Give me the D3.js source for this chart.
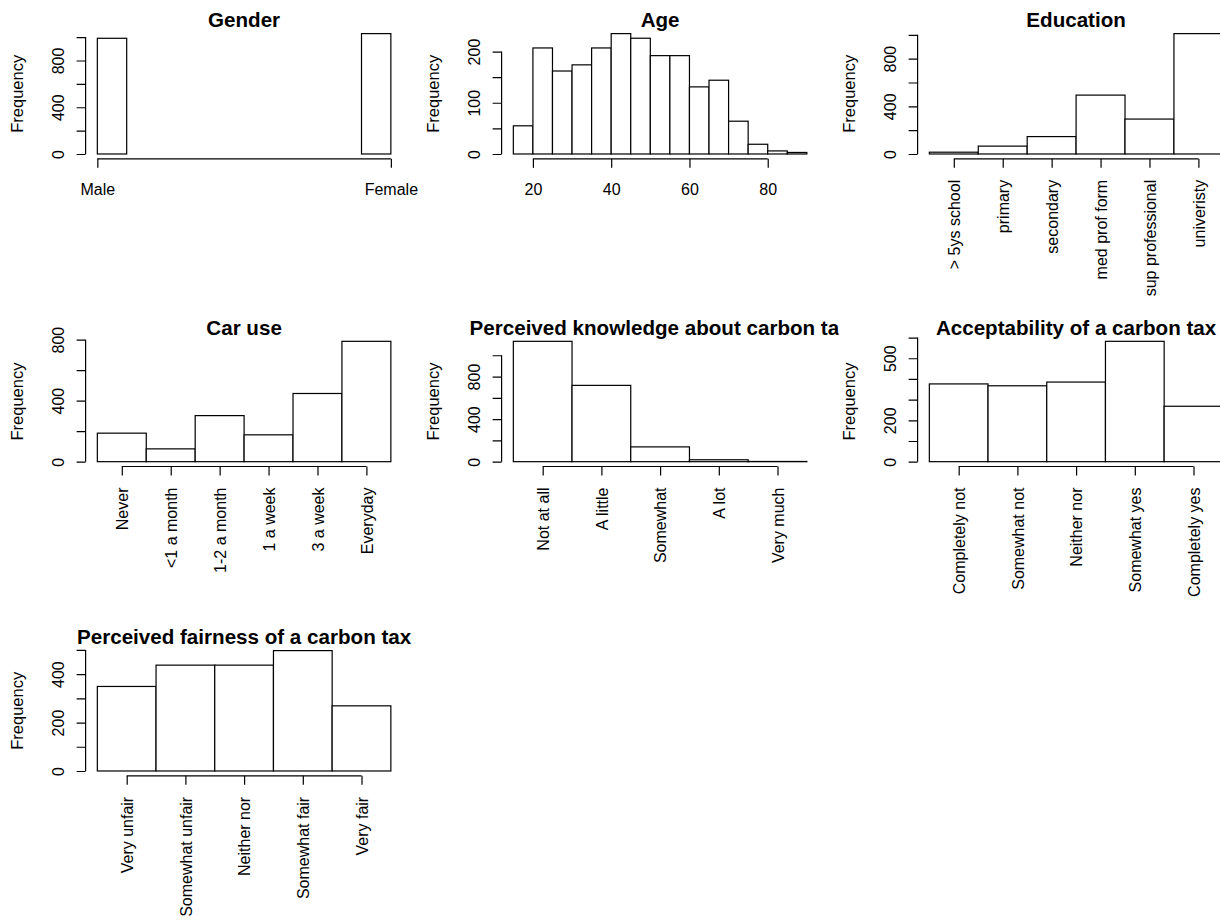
<!DOCTYPE html>
<html>
<head>
<meta charset="utf-8">
<script src="https://cdn.jsdelivr.net/npm/d3@7"></script>
<style>
  body { margin: 0; background: #fff; }
  svg { display: block; }
  text { font-family: "Liberation Sans", Arial, sans-serif; fill: #000; }
</style>
</head>
<body>
<div id="content"></div>
<script>
// ---- data ----
const genderLabels = ['Male', 'Female']
const genderTicks = [1, 2]
const genderBreaks = [1, 1.1, 1.2, 1.3, 1.4, 1.5, 1.6, 1.7, 1.8, 1.9, 2]
const genderCounts = [990, 0, 0, 0, 0, 0, 0, 0, 0, 1030]

const ageBreaks = [15, 20, 25, 30, 35, 40, 45, 50, 55, 60, 65, 70, 75, 80, 85, 90]
const ageCounts = [55, 207, 162, 174, 207, 235, 226, 192, 192, 131, 144, 64, 19, 6, 3]
const ageTicks = [20, 40, 60, 80]

const educationLevels = ['> 5ys school', 'primary', 'secondary', 'med prof form', 'sup professional', 'univeristy']
const educationCounts = [15, 66, 146, 494, 293, 1010]

const carUseLevels = ['Never', '<1 a month', '1-2 a month', '1 a week', '3 a week', 'Everyday']
const carUseCounts = [187, 84, 302, 176, 447, 789]

const knowledgeLevels = ['Not at all', 'A little', 'Somewhat', 'A lot', 'Very much']
const knowledgeCounts = [1131, 717, 139, 18, 2]

const acceptLevels = ['Completely not', 'Somewhat not', 'Neither nor', 'Somewhat yes', 'Completely yes']
const acceptCounts = [376, 367, 385, 582, 268]

const fairLevels = ['Very unfair', 'Somewhat unfair', 'Neither nor', 'Somewhat fair', 'Very fair']
const fairCounts = [349, 437, 437, 497, 269]

// y ticks and which of them R printed a label for
const yTicks1000 = [0, 200, 400, 600, 800, 1000]
const yTicks800 = [0, 200, 400, 600, 800]
const yTicksAge = [0, 50, 100, 150, 200]
const yTicksAccept = [0, 100, 200, 300, 400, 500, 600]
const yTicksFair = [0, 100, 200, 300, 400, 500]
const yLabels1000 = [0, 400, 800]
const yLabelsAge = [0, 100, 200]
const yLabelsAccept = [0, 200, 500]
const yLabelsFair = [0, 200, 400]

// ---- layout (mfrow 3x3) ----
const width = 1220
const height = 924
const colLeft = [85.6, 501.6, 917.6]
const rowTop = [28.8, 336.5, 645.8]
const figW = 416
const plotW = 317
const plotH = 130

const svg = d3.select('#content')
    .append('svg')
    .attr('width', width)
    .attr('height', height)

// build bins for a factor: one bar per level, centred on 1..n
const factorBins = (counts) => counts.map((n, i) => ({ x0: i + 0.5, x1: i + 1.5, n: n }))
const breakBins = (breaks, counts) => counts.map((n, i) => ({ x0: breaks[i], x1: breaks[i + 1], n: n }))

const panels = [
    { title: 'Gender', row: 0, col: 0, bins: breakBins(genderBreaks, genderCounts),
      xTicks: genderTicks, xLabels: genderLabels, rotate: false, yTicks: yTicks1000, yLabels: yLabels1000 },
    { title: 'Age', row: 0, col: 1, bins: breakBins(ageBreaks, ageCounts),
      xTicks: ageTicks, xLabels: ageTicks.map(String), rotate: false, yTicks: yTicksAge, yLabels: yLabelsAge },
    { title: 'Education', row: 0, col: 2, bins: factorBins(educationCounts),
      xTicks: educationLevels.map((d, i) => i + 1), xLabels: educationLevels, rotate: true, yTicks: yTicks1000, yLabels: yLabels1000 },
    { title: 'Car use', row: 1, col: 0, bins: factorBins(carUseCounts),
      xTicks: carUseLevels.map((d, i) => i + 1), xLabels: carUseLevels, rotate: true, yTicks: yTicks800, yLabels: yLabels1000 },
    { title: 'Perceived knowledge about carbon tax', row: 1, col: 1, bins: factorBins(knowledgeCounts),
      xTicks: knowledgeLevels.map((d, i) => i + 1), xLabels: knowledgeLevels, rotate: true, yTicks: yTicks1000, yLabels: yLabels1000 },
    { title: 'Acceptability of a carbon tax', row: 1, col: 2, bins: factorBins(acceptCounts),
      xTicks: acceptLevels.map((d, i) => i + 1), xLabels: acceptLevels, rotate: true, yTicks: yTicksAccept, yLabels: yLabelsAccept },
    { title: 'Perceived fairness of a carbon tax', row: 2, col: 0, bins: factorBins(fairCounts),
      xTicks: fairLevels.map((d, i) => i + 1), xLabels: fairLevels, rotate: true, yTicks: yTicksFair, yLabels: yLabelsFair }
]

const defs = svg.append('defs')

panels.forEach((p, k) => {
    const left = colLeft[p.col]
    const top = rowTop[p.row]
    const bottom = top + plotH

    // figure region clip (long titles get cut like in R)
    defs.append('clipPath')
        .attr('id', `fig${k}`)
        .append('rect')
        .attr('x', left - 79)
        .attr('y', top - 40)
        .attr('width', figW)
        .attr('height', 310)

    const g = svg.append('g').attr('clip-path', `url(#fig${k})`)

    const lo = p.bins[0].x0
    const hi = p.bins[p.bins.length - 1].x1
    const pad = (hi - lo) * 0.04
    const x = d3.scaleLinear()
        .domain([lo - pad, hi + pad])
        .range([left, left + plotW])

    const ymax = d3.max(p.bins, d => d.n)
    const y = d3.scaleLinear()
        .domain([-0.04 * ymax, 1.04 * ymax])
        .range([bottom, top])

    // bars
    g.append('g')
        .selectAll('rect')
        .data(p.bins)
        .join('rect')
        .attr('x', d => x(d.x0))
        .attr('y', d => y(d.n))
        .attr('width', d => x(d.x1) - x(d.x0))
        .attr('height', d => y(0) - y(d.n))
        .attr('fill', '#fff')
        .attr('stroke', '#000')
        .attr('stroke-width', 1.2)

    // y axis
    const yAxis = g.append('g')
        .attr('transform', `translate(${left},0)`)
        .call(d3.axisLeft(y)
            .tickValues(p.yTicks)
            .tickSize(9)
            .tickFormat(d => p.yLabels.includes(d) ? d : ''))
    yAxis.select('.domain')
        .attr('d', `M0,${y(p.yTicks[0])}V${y(p.yTicks[p.yTicks.length - 1])}`)
    yAxis.selectAll('line, path').attr('stroke', '#000').attr('stroke-width', 1.2)
    yAxis.selectAll('text')
        .attr('x', null)
        .attr('dy', null)
        .attr('transform', 'translate(-21.6,0) rotate(-90)')
        .attr('text-anchor', 'middle')
        .attr('font-size', 16)

    // x axis
    const xAxis = g.append('g')
        .attr('transform', `translate(0,${bottom})`)
        .call(d3.axisBottom(x)
            .tickValues(p.xTicks)
            .tickSize(9)
            .tickFormat((d, i) => p.xLabels[i]))
    xAxis.select('.domain')
        .attr('d', `M${x(p.xTicks[0])},0H${x(p.xTicks[p.xTicks.length - 1])}`)
    xAxis.selectAll('line, path').attr('stroke', '#000').attr('stroke-width', 1.2)
    if (p.rotate) {
        xAxis.selectAll('text')
            .attr('y', null)
            .attr('dy', '0.35em')
            .attr('transform', 'translate(0,21) rotate(-90)')
            .attr('text-anchor', 'end')
            .attr('font-size', 16)
    } else {
        xAxis.selectAll('text')
            .attr('y', 36.5)
            .attr('dy', null)
            .attr('font-size', 16)
    }
    g.selectAll('.tick text').attr('fill', '#000').style('font-family', '"Liberation Sans", Arial, sans-serif')

    // y label
    g.append('text')
        .text('Frequency')
        .attr('transform', `translate(${left - 63},${top + plotH / 2}) rotate(-90)`)
        .attr('text-anchor', 'middle')
        .attr('font-size', 16.5)

    // title
    g.append('text')
        .text(p.title)
        .attr('x', left + plotW / 2)
        .attr('y', top - 1.5)
        .attr('text-anchor', 'middle')
        .attr('font-size', 20.6)
        .attr('font-weight', 'bold')
})
</script>
</body>
</html>
